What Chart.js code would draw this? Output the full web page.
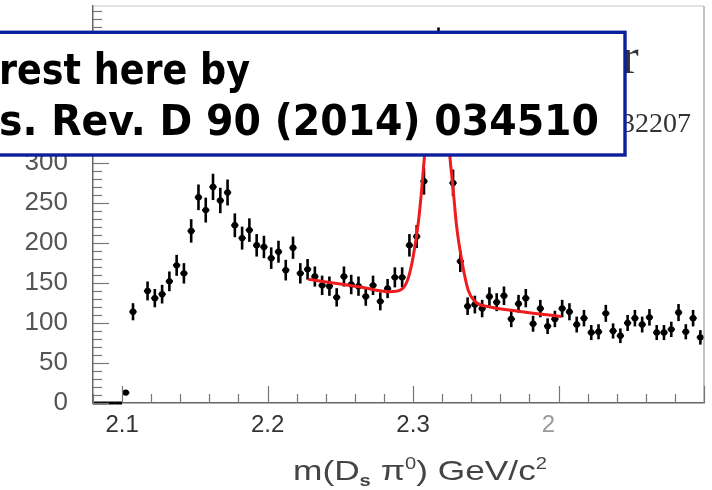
<!DOCTYPE html>
<html>
<head>
<meta charset="utf-8">
<script src="https://cdn.jsdelivr.net/npm/chart.js"></script>
<style>
  html, body { margin: 0; padding: 0; background: #fff; }
  #wrap { width: 712px; height: 490px; }
</style>
</head>
<body>
<div id="wrap"><canvas id="massChart" width="712" height="490"></canvas></div>
<script>
// histogram, 5 MeV bins from 2.08 to 2.50 GeV/c^2
const binLow = 2.08;
const binWidth = 0.005;
const counts = [
  0, 0, 0, 0, 13, 114, null, 140, 131, 136,
  152, 172, 162, 215, 257, 241, 270, 253, 263, 222,
  206, 216, 197, 195, 181, 189, 166, 194, 162, 167,
  158, 147, 146, 132, 158, 148, 146, 133, 147, 127,
  143, 157, 157, 197, 208, 277, 390, 448, 400, 275,
  177, 121, 123, 118, 133, 126, 134, 105, 124, 131,
  99, 118, 96, 105, 118, 114, 98, 106, 88, 89,
  112, 90, 84, 100, 106, 98, 107, 88, 88, 92,
  113, 89, 106, 82
];

// fit curve (gaussian + linear background)
const fitX = [2.228, 2.245, 2.2635, 2.2841, 2.2922, 2.2967, 2.3001, 2.3036, 2.3059, 2.3082,
  2.3120, 2.3165, 2.3210, 2.3249, 2.3276, 2.3300, 2.3334, 2.3379, 2.3425, 2.3529, 2.3712, 2.4021];
const fitY = [154.6, 150, 145, 139, 142, 156, 183, 225, 266, 316,
  405, 445, 405, 316, 266, 220, 179, 141, 127, 120, 115, 108];

const xTickValues = [2.1, 2.2, 2.3, 2.4];
const xTickLabels = ['2.1', '2.2', '2.3', '2'];
const yLabelStep = 50;
const boxLines = ['rest here by', 's. Rev. D 90 (2014) 034510'];
const behindBox = ['r', '32207'];

const points = counts.map((c, i) => ({ x: binLow + binWidth * (i + 0.5), y: c }));
const fitPoints = fitX.map((x, i) => ({ x: x, y: fitY[i] }));

const noPad = s => { s.paddingTop = 0; s.paddingBottom = 0; s.paddingLeft = 0; s.paddingRight = 0; };

const errorBars = {
  id: 'errorBars',
  beforeDatasetsDraw(chart) {
    const ctx = chart.ctx;
    const xs = chart.scales.x, ys = chart.scales.y;
    ctx.save();
    ctx.strokeStyle = '#000';
    points.forEach(p => {
      if (p.y === null) return;
      const px = xs.getPixelForValue(p.x);
      const py = ys.getPixelForValue(p.y);
      ctx.lineWidth = p.y === 0 ? 3 : 2;
      ctx.beginPath();
      ctx.moveTo(xs.getPixelForValue(p.x - binWidth / 2), py);
      ctx.lineTo(xs.getPixelForValue(p.x + binWidth / 2), py);
      ctx.stroke();
      if (p.y > 20) {
        const e = Math.sqrt(p.y);
        ctx.lineWidth = 2.6;
        ctx.beginPath();
        ctx.moveTo(px, ys.getPixelForValue(p.y + e));
        ctx.lineTo(px, ys.getPixelForValue(p.y - e));
        ctx.stroke();
      }
    });
    ctx.restore();
  }
};

const decorations = {
  id: 'decorations',
  afterDraw(chart) {
    const ctx = chart.ctx;
    const a = chart.chartArea;
    const xs = chart.scales.x, ys = chart.scales.y;
    ctx.save();

    // frame
    ctx.strokeStyle = '#c8c8c8';
    ctx.lineWidth = 1.2;
    ctx.beginPath();
    ctx.moveTo(a.left, a.top); ctx.lineTo(a.right, a.top);
    ctx.stroke();
    ctx.strokeStyle = '#999';
    ctx.beginPath();
    ctx.moveTo(a.right, a.top); ctx.lineTo(a.right, a.bottom);
    ctx.stroke();

    // inward tick marks
    ctx.strokeStyle = '#777';
    ctx.lineWidth = 1.2;
    ys.ticks.forEach(t => {
      const v = Math.round(t.value);
      if (Math.abs(t.value - v) > 0.01 || v % 10 !== 0) return;
      const len = v % yLabelStep === 0 ? 16 : 9;
      const py = Math.round(ys.getPixelForValue(v)) + 0.5;
      ctx.beginPath();
      ctx.moveTo(a.left, py); ctx.lineTo(a.left + len, py);
      ctx.stroke();
    });
    xs.ticks.forEach(t => {
      const r = Math.round(t.value * 100);
      if (r % 2 !== 0) return;
      const len = r % 10 === 0 ? 17 : 9;
      const px = Math.round(xs.getPixelForValue(r / 100)) + 0.5;
      ctx.beginPath();
      ctx.moveTo(px, a.bottom); ctx.lineTo(px, a.bottom - len);
      ctx.stroke();
    });

    // text partly hidden behind the box
    ctx.fillStyle = '#333';
    ctx.textBaseline = 'alphabetic';
    ctx.textAlign = 'left';
    ctx.font = '50px "Liberation Serif"';
    ctx.fillText(behindBox[0], 622, 73);
    ctx.font = '28px "Liberation Serif"';
    ctx.fillText(behindBox[1], 621, 132);

    // overlay box
    ctx.fillStyle = '#fff';
    ctx.fillRect(-10, 32, 636, 123);
    ctx.strokeStyle = '#0c1f9c';
    ctx.lineWidth = 3.4;
    ctx.strokeRect(-10, 32.3, 635, 122.7);

    ctx.fillStyle = '#000';
    ctx.font = 'bold 42px "DejaVu Sans"';
    const targets = [[84, 250], [135, 599]];
    boxLines.forEach((txt, i) => {
      const w = ctx.measureText(txt).width;
      const sx = (targets[i][1] + 1) / w;
      ctx.save();
      ctx.translate(-1, targets[i][0]);
      ctx.scale(sx, 1);
      ctx.fillText(txt, 0, 0);
      ctx.restore();
    });

    // x axis title: m(D_s pi^0) GeV/c^2
    const parts = [
      ['m(D', '28px "Liberation Sans"', 0],
      ['s', 'bold 16px "Liberation Sans"', 6],
      [' \u03c0', '28px "Liberation Sans"', 0],
      ['0', '16px "Liberation Sans"', -11],
      [') GeV/c', '28px "Liberation Sans"', 0],
      ['2', '16px "Liberation Sans"', -11]
    ];
    let total = 0;
    parts.forEach(p => { ctx.font = p[1]; total += ctx.measureText(p[0]).width; });
    const sx = 254 / total;
    ctx.fillStyle = '#444';
    ctx.translate(293, 480);
    ctx.scale(sx, 1);
    let x = 0;
    parts.forEach(p => {
      ctx.font = p[1];
      ctx.fillText(p[0], x, p[2]);
      x += ctx.measureText(p[0]).width;
    });

    ctx.restore();
  }
};

new Chart(document.getElementById('massChart'), {
  type: 'scatter',
  data: {
    datasets: [
      {
        label: 'data',
        data: points,
        order: 2,
        showLine: false,
        pointRadius: c => (c.raw && c.raw.y > 0 ? 3.2 : 0),
        pointBackgroundColor: '#000',
        pointBorderColor: '#000',
        pointBorderWidth: 0
      },
      {
        label: 'fit',
        data: fitPoints,
        order: 1,
        showLine: true,
        borderColor: '#ee1c1c',
        borderWidth: 3,
        pointRadius: 0,
        cubicInterpolationMode: 'monotone',
        fill: false
      }
    ]
  },
  options: {
    responsive: false,
    animation: false,
    layout: { padding: { top: 6, right: 8, left: 0, bottom: 0 } },
    plugins: { legend: { display: false }, tooltip: { enabled: false } },
    scales: {
      x: {
        type: 'linear',
        min: 2.08,
        max: 2.50,
        afterFit: s => { s.height = 87; noPad(s); },
        grid: { display: false, drawTicks: false },
        border: { display: true, color: '#666', width: 1.5 },
        ticks: {
          stepSize: 0.02,
          autoSkip: false,
          maxRotation: 0,
          padding: 8,
          font: { family: '"Liberation Sans"', size: 24 },
          color: c => (Math.round(c.tick.value * 100) === 240 ? '#999' : '#333'),
          callback: v => {
            const i = xTickValues.findIndex(t => Math.abs(t - v) < 1e-6);
            if (i < 0) return '';
            return xTickLabels[i] === '2' ? '2   ' : xTickLabels[i];
          }
        }
      },
      y: {
        min: 0,
        max: 496,
        afterFit: s => { s.width = 93; noPad(s); },
        grid: { display: false, drawTicks: false },
        border: { display: true, color: '#666', width: 1.5 },
        ticks: {
          stepSize: 10,
          includeBounds: false,
          autoSkip: false,
          padding: 25,
          font: { family: '"Liberation Sans"', size: 26 },
          color: '#555',
          callback: v => (Math.round(v) % yLabelStep === 0 ? String(Math.round(v)) : '')
        }
      }
    }
  },
  plugins: [errorBars, decorations]
});
</script>
</body>
</html>
